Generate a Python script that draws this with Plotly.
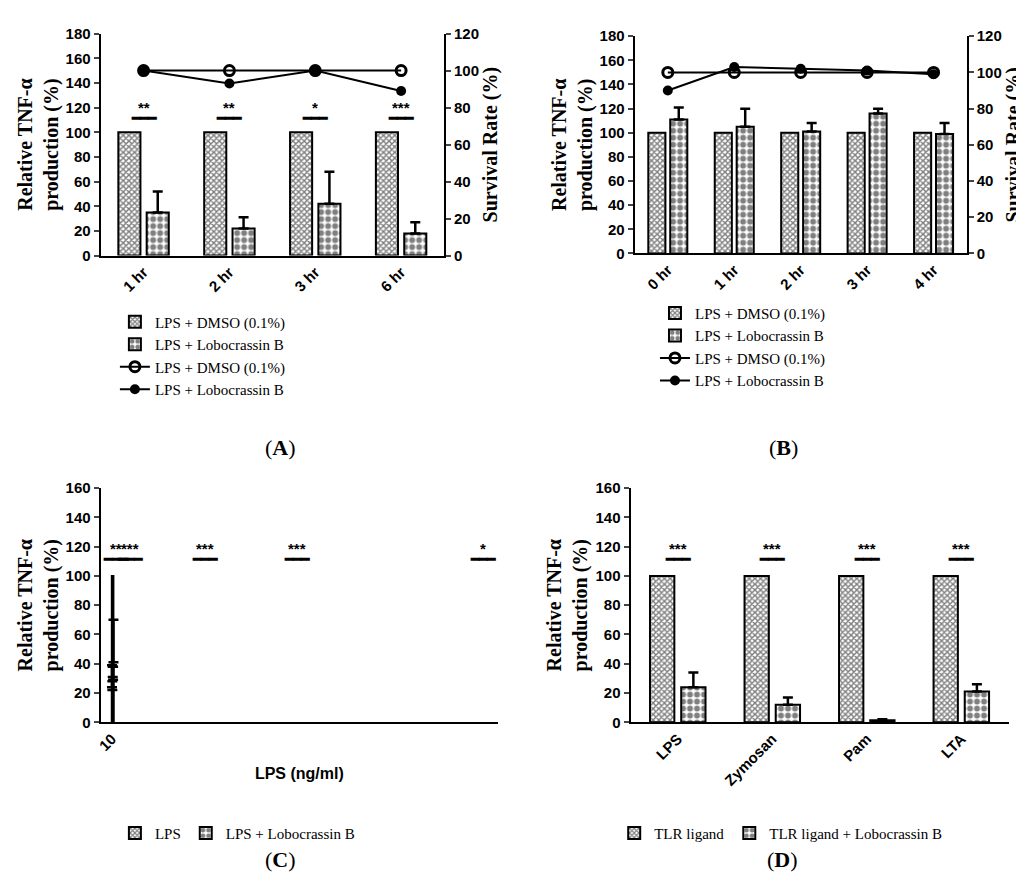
import plotly.graph_objects as go

# ---------- data ----------
catA = ["1 hr", "2 hr", "3 hr", "6 hr"]
dmsoA = [100, 100, 100, 100]
loboA = [35, 22, 42, 18]
loboA_err = [17, 9, 26, 9]
survDmsoA = [100, 100, 100, 100]
survLoboA = [100, 93, 100, 89]
starsA = ["**", "**", "*", "***"]

catB = ["0 hr", "1 hr", "2 hr", "3 hr", "4 hr"]
dmsoB = [100, 100, 100, 100, 100]
loboB = [111, 105, 101, 116, 99]
loboB_err = [10, 15, 7, 4, 9]
survDmsoB = [100, 100, 100, 100, 100]
survLoboB = [90, 103, 102, 101, 99]

catC = ["10", "50", "250", "500", "1000"]
lpsC = [100, 100, 100, 100, 100]
loboC = [24, 22, 31, 29, 41]
loboC_err = [15, 6, 7, 9, 29]
starsC = ["**", "***", "***", "***", "*"]

catD = ["LPS", "Zymosan", "Pam", "LTA"]
tlrD = [100, 100, 100, 100]
loboD = [24, 12, 1.5, 21]
loboD_err = [10, 5, 0.6, 5]
starsD = ["***", "***", "***", "***"]

SERIF = "Liberation Serif"
SANS = "Liberation Sans"

fig = go.Figure()

pat1 = dict(shape="x", size=4, solidity=0.6, fgcolor="black", bgcolor="white")
pat2 = dict(shape=".", size=7, solidity=0.55, fgcolor="black", bgcolor="white")

def bars(cats, v1, v2, err, xa, ya, n1, n2, leg):
    fig.add_trace(go.Bar(x=cats, y=v1, name=n1, xaxis=xa, yaxis=ya, legend=leg,
                         marker=dict(color="white", pattern=pat1, line=dict(color="black", width=2))))
    fig.add_trace(go.Bar(x=cats, y=v2, name=n2, xaxis=xa, yaxis=ya, legend=leg,
                         marker=dict(color="white", pattern=pat2, line=dict(color="black", width=2)),
                         error_y=dict(type="data", array=err, arrayminus=[0]*len(err), symmetric=False,
                                      color="black", thickness=2.5, width=5)))

def lines(cats, d, l, xa, ya, leg):
    fig.add_trace(go.Scatter(x=cats, y=d, name="LPS + DMSO (0.1%)", xaxis=xa, yaxis=ya, legend=leg,
                             mode="lines+markers", line=dict(color="black", width=2),
                             marker=dict(symbol="circle-open", size=10, color="black", line=dict(width=3))))
    fig.add_trace(go.Scatter(x=cats, y=l, name="LPS + Lobocrassin B", xaxis=xa, yaxis=ya, legend=leg,
                             mode="lines+markers", line=dict(color="black", width=2),
                             marker=dict(symbol="circle", size=10, color="black")))

def sig(cats, stars, xa, ya, yv):
    for c, s in zip(cats, stars):
        fig.add_annotation(x=c, y=yv, xref=xa, yref=ya, text="<b>" + "\u2501" * 3 + "</b>",
                           showarrow=False, font=dict(size=14, color="black"), yshift=0)
        fig.add_annotation(x=c, y=yv, xref=xa, yref=ya, text="<b>" + s + "</b>",
                           showarrow=False, font=dict(size=15, color="black", family=SANS), yshift=10)

bars(catA, dmsoA, loboA, loboA_err, "x", "y", "LPS + DMSO (0.1%)", "LPS + Lobocrassin B", "legend")
lines(catA, survDmsoA, survLoboA, "x", "y2", "legend")
sig(catA, starsA, "x", "y", 112)

bars(catB, dmsoB, loboB, loboB_err, "x2", "y3", "LPS + DMSO (0.1%)", "LPS + Lobocrassin B", "legend2")
lines(catB, survDmsoB, survLoboB, "x2", "y4", "legend2")

bars(catC, lpsC, loboC, loboC_err, "x3", "y5", "LPS", "LPS + Lobocrassin B", "legend3")
sig(catC, starsC, "x3", "y5", 112)

bars(catD, tlrD, loboD, loboD_err, "x4", "y6", "TLR ligand", "TLR ligand + Lobocrassin B", "legend4")
sig(catD, starsD, "x4", "y6", 112)

tickf = dict(family=SANS, size=15, color="black", weight="bold")
titf = dict(family=SERIF, size=20, color="black", weight="bold")
ax = dict(showline=True, linewidth=2, linecolor="black", ticks="outside", tickwidth=2,
          ticklen=5, showgrid=False, zeroline=False, tickfont=tickf)
xax = dict(showline=True, linewidth=2, linecolor="black", ticks="", showgrid=False,
           tickangle=-45, tickfont=tickf, type="category")

ytitle = "Relative TNF-α<br>production (%)"
legf = dict(family=SERIF, size=15, color="black")

fig.update_layout(
    width=1024, height=891, margin=dict(l=0, r=0, t=0, b=0),
    plot_bgcolor="white", paper_bgcolor="white",
    barmode="group", bargap=0.34, bargroupgap=0.22,
    xaxis=dict(xax, domain=[0.086, 0.423], anchor="y"),
    yaxis=dict(ax, domain=[0.727, 0.981], range=[0, 180], dtick=20, anchor="x",
               title=dict(text=ytitle, font=titf, standoff=2)),
    yaxis2=dict(ax, range=[0, 120], dtick=20, overlaying="y", side="right", anchor="x",
                title=dict(text="Survival Rate (%)", font=titf, standoff=5)),
    xaxis2=dict(xax, domain=[0.610, 0.936], anchor="y3"),
    yaxis3=dict(ax, domain=[0.7295, 0.978], range=[0, 180], dtick=20, anchor="x2",
                title=dict(text=ytitle, font=titf, standoff=2)),
    yaxis4=dict(ax, range=[0, 120], dtick=20, overlaying="y3", side="right", anchor="x2",
                title=dict(text="Survival Rate (%)", font=titf, standoff=5)),
    xaxis3=dict(xax, domain=[0.086, 0.476], anchor="y5",
                title=dict(text="LPS (ng/ml)", font=dict(family=SANS, size=16, color="black", weight="bold"))),
    yaxis5=dict(ax, domain=[0.193, 0.461], range=[0, 160], dtick=20, anchor="x3",
                title=dict(text=ytitle, font=titf, standoff=2)),
    xaxis4=dict(xax, domain=[0.606, 0.977], anchor="y6"),
    yaxis6=dict(ax, domain=[0.193, 0.461], range=[0, 160], dtick=20, anchor="x4",
                title=dict(text=ytitle, font=titf, standoff=2)),
    legend=dict(x=0.1, y=0.67, xanchor="left", yanchor="top", font=legf, tracegroupgap=4),
    legend2=dict(x=0.63, y=0.68, xanchor="left", yanchor="top", font=legf, tracegroupgap=4),
    legend3=dict(x=0.1, y=0.085, xanchor="left", yanchor="top", font=legf, orientation="h"),
    legend4=dict(x=0.59, y=0.085, xanchor="left", yanchor="top", font=legf, orientation="h"),
    showlegend=True,
)

for txt, x, y in [("(<b>A</b>)", 0.245, 0.508), ("(<b>B</b>)", 0.772, 0.508),
                  ("(<b>C</b>)", 0.245, 0.02), ("(<b>D</b>)", 0.772, 0.02)]:
    fig.add_annotation(text=txt, x=x, y=y, xref="paper", yref="paper", showarrow=False,
                       font=dict(family=SERIF, size=22, color="black"))

fig.write_html("out.html")
